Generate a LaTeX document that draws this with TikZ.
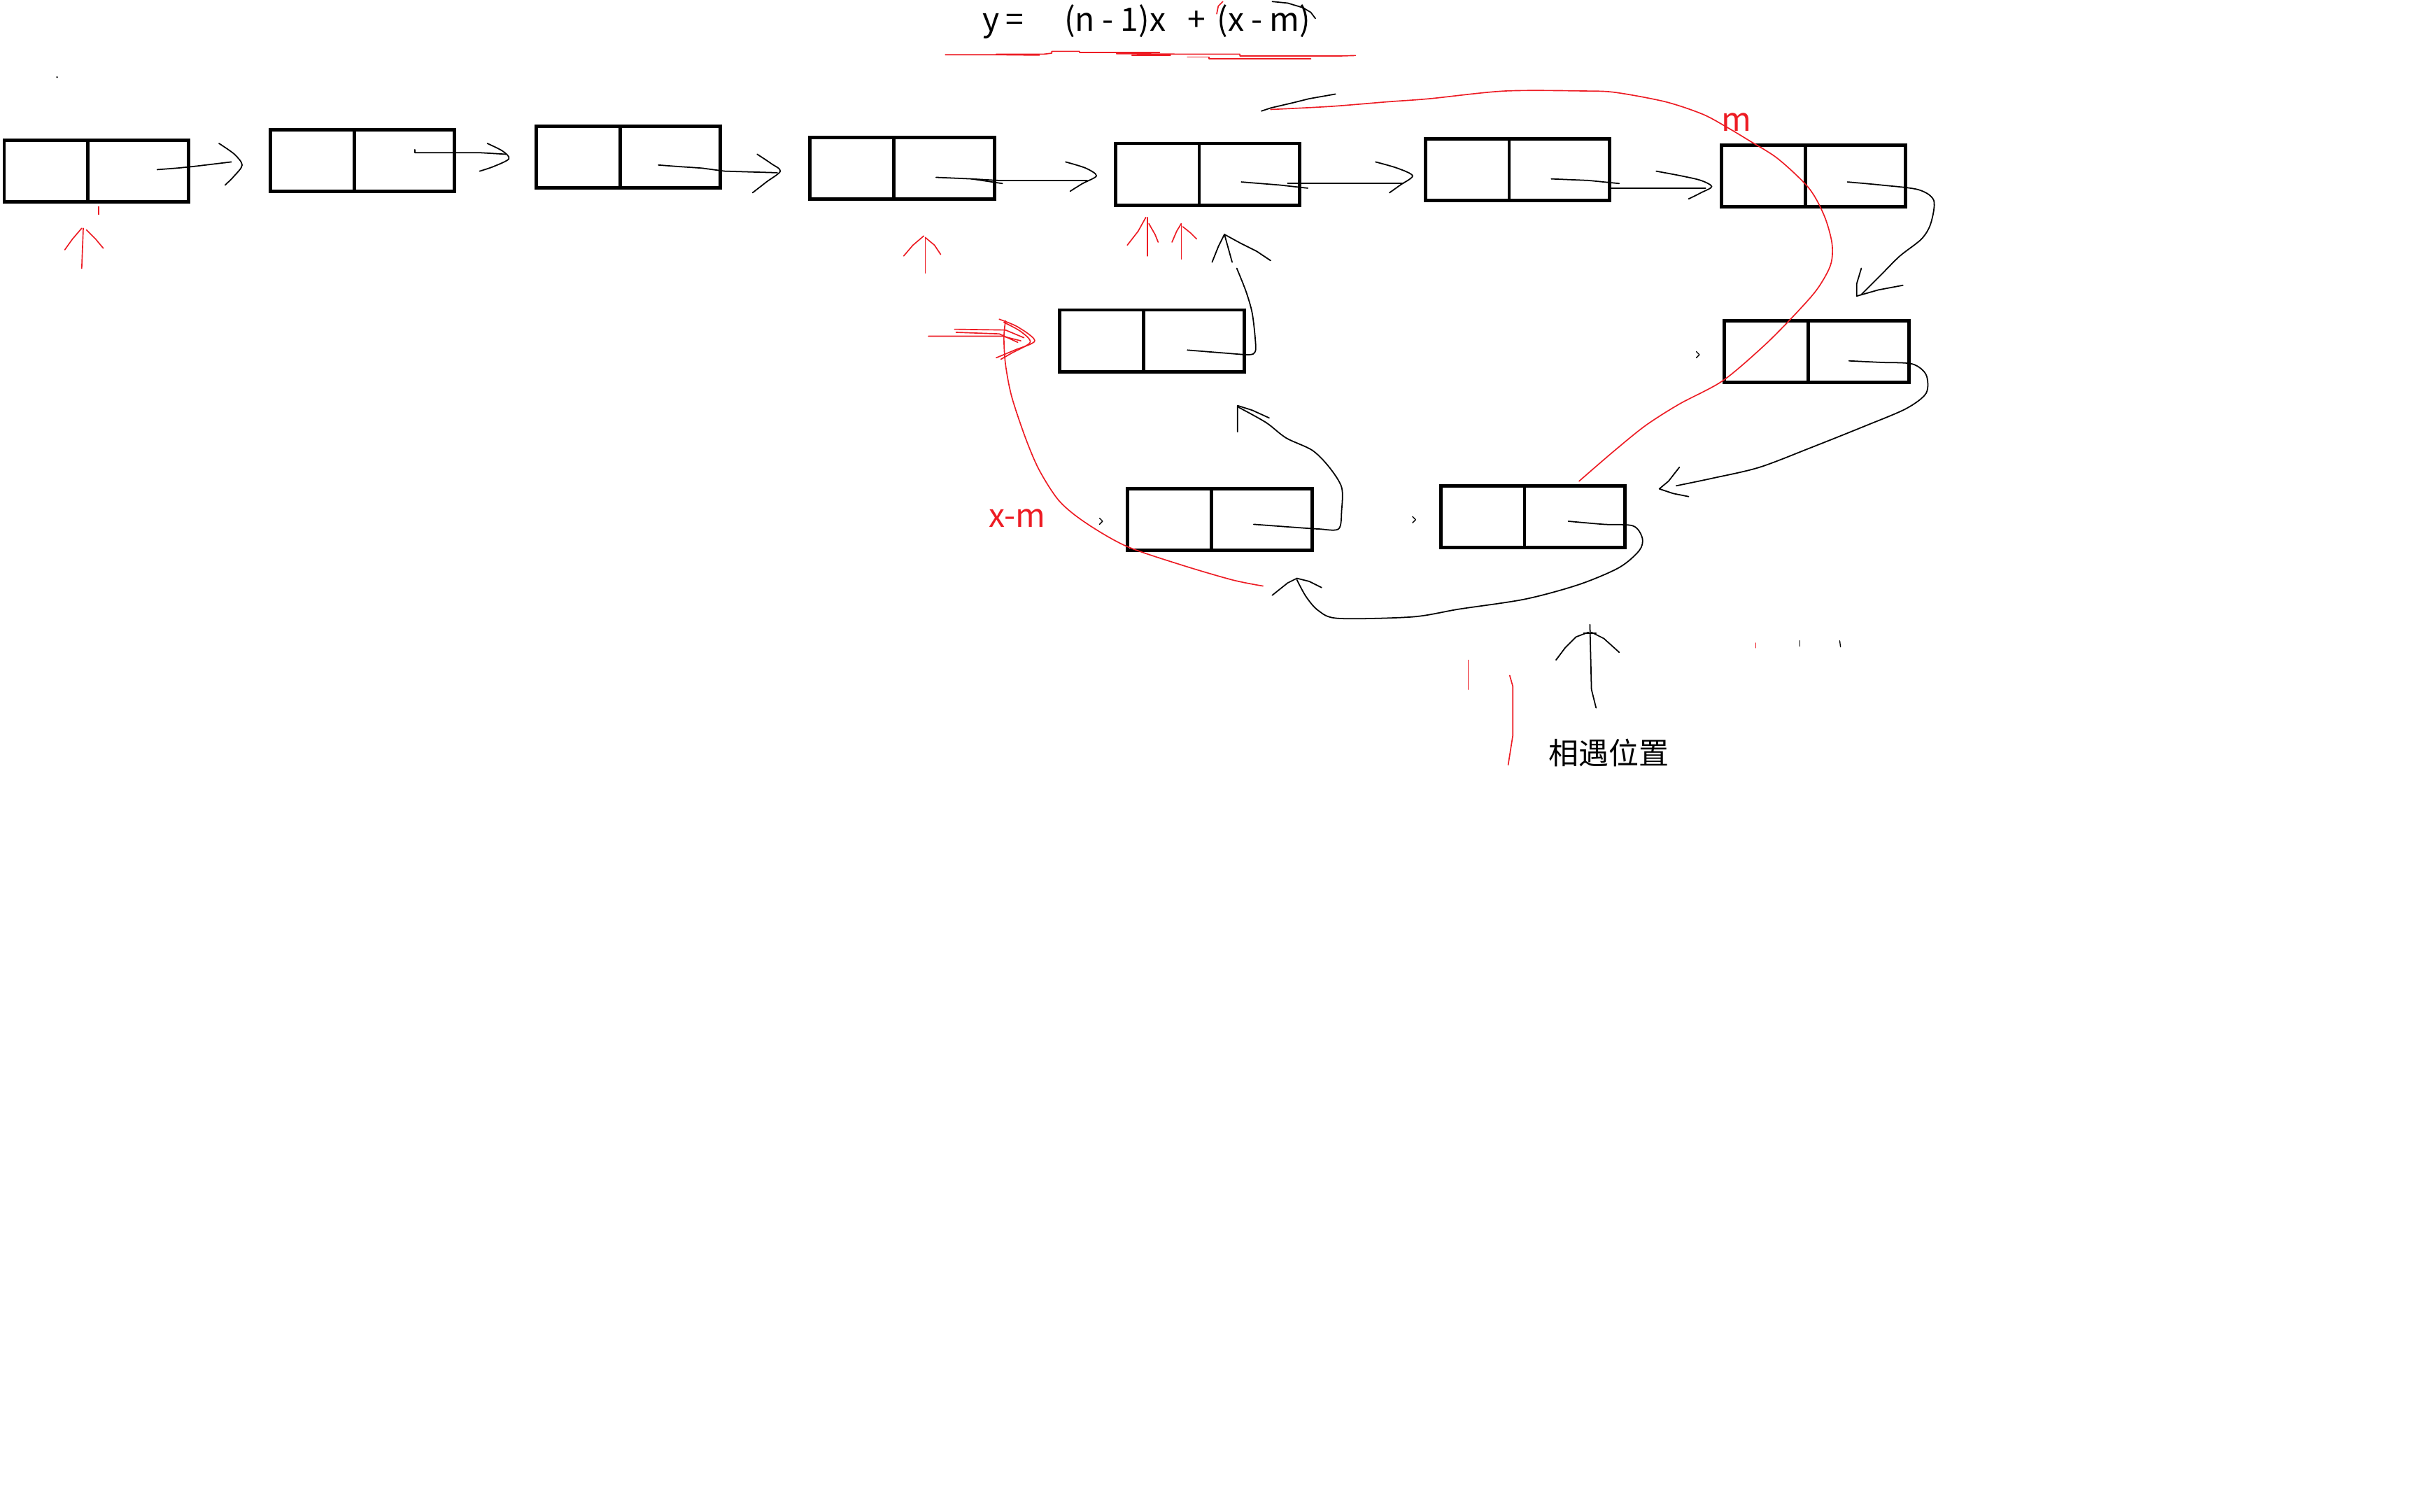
\documentclass[tikz,border=0pt]{standalone}
\usepackage{fontspec}
\setmainfont{Noto Sans CJK SC}
\usetikzlibrary{calc}
\definecolor{pred}{RGB}{237,28,36}
\tikzset{
  cell/.style={draw, line width=2.2pt, minimum width=119.5pt, minimum height=40pt, inner sep=0pt, outer sep=0pt},
  ink/.style={line width=0.8pt, black, line join=round, line cap=round},
  rink/.style={line width=0.75pt, pred, line join=round, line cap=round},
  lbl/.style={inner sep=0pt, font=\fontsize{21}{24}\selectfont},
  rlbl/.style={lbl, text=pred},
}
\begin{document}
\begin{tikzpicture}[x=1pt,y=-1pt]
\useasboundingbox (0,0) rectangle (1568,980);
\fill[white] (0,0) rectangle (1568,980);

% ---------------- boxes
\node[cell] (b1) at (62.5,111) {};
\node[cell] (b2) at (235,104) {};
\node[cell] (b3) at (407.5,102) {};
\node[cell] (b4) at (585,109) {};
\node[cell] (b5) at (783,113) {};
\node[cell] (b6) at (984,110) {};
\node[cell] (b7) at (1176,114) {};
\node[cell] (b8) at (1178,228) {};
\node[cell] (b9) at (994,335) {};
\node[cell] (b10) at (791,337) {};
\node[cell] (b11) at (747,221) {};
\foreach \b in {b1,b2,b3,b4,b5,b6,b7,b8,b9,b10,b11}
  \draw[line width=2.2pt] ($(\b.north west)!0.455!(\b.north east)$) -- ($(\b.south west)!0.455!(\b.south east)$);

% ---------------- texts
\node[lbl, anchor=base west] (eqy) at (637,20) {y\hspace{4pt}=};
\node[lbl, anchor=base west] (eqa) at (690,20) {(n - 1)x};
\node[lbl, anchor=base west] (eqp) at (770,20) {+};
\node[lbl, anchor=base west] (eqb) at (789,20) {(x - m)};
\node[rlbl, anchor=base west] (lm) at (1116,85) {m};
\node[rlbl, anchor=base west] (lxm) at (641,342) {x-m};
\node[inner sep=0pt, anchor=west, font=\fontsize{19.5}{22}\selectfont] (meet) at (1004,488) {相遇位置};

% ---------------- top row connectors
\coordinate (s1) at (102,110);
\draw[ink] (s1) -- (115,109) -- (125,108) -- (150,105);
\draw[ink] plot[smooth] coordinates {(142,93) (152,100) (157,107) (152,114) (146,120)};

\coordinate (s2) at (269,97);
\draw[ink] (s2) -- (269,99) -- (311,99) -- (328,100);
\draw[ink] plot[smooth] coordinates {(316,93) (326,98) (330,103) (320,108) (311,111)};

\coordinate (s3) at (427,107);
\draw[ink] (s3) -- (440,108) -- (455,109) -- (470,111) -- (504,112);
\draw[ink] plot[smooth] coordinates {(491,100) (500,106) (506,111) (497,118) (488,125)};

\coordinate (s4) at (607,115);
\draw[ink] (s4) -- (630,116) -- (647,117) -- (705,117);
\draw[ink] (630,116) -- (650,119);
\draw[ink] plot[smooth] coordinates {(691,105) (704,109) (711,114) (702,119) (694,124)};

\coordinate (s5) at (805,118);
\draw[ink] (s5) -- (830,120) -- (848,122);
\draw[ink] (835,119) -- (910,119);
\draw[ink] plot[smooth] coordinates {(892,105) (906,109) (916,114) (908,120) (901,125)};

\coordinate (s6) at (1006,116);
\draw[ink] (s6) -- (1030,117) -- (1050,119);
\draw[ink] (1044,122) -- (1106,122);
\draw[ink] plot[smooth] coordinates {(1074,111) (1090,114) (1103,117) (1110,121) (1103,125) (1095,129)};

% ---------------- loop connectors
\coordinate (s7) at (1198,118);
\draw[ink] plot[smooth] coordinates {(s7) (1220,120) (1244,123) (1254,130) (1252,145) (1246,155) (1232,166) (1220,178) (1207,191)};
\draw[ink] (1207,174) -- (1204,184) -- (1204,192) -- (1218,188) -- (1234,185);

\coordinate (s8) at (1199,234);
\draw[ink] plot[smooth] coordinates {(s8) (1220,235) (1240,236) (1249,243) (1249,255) (1236,265) (1210,276) (1175,290) (1141,303) (1111,310) (1087,315)};
\draw[ink] (1089,303) -- (1082,312) -- (1076,317) -- (1085,320) -- (1095,322);

\coordinate (s9) at (1017,338);
\draw[ink] plot[smooth] coordinates {(s9) (1040,340) (1059,341) (1065,349) (1063,357) (1050,368) (1024,379) (989,388.5) (946,395) (916,400) (868,401) (855,396) (847,387) (841,376)};
\draw[ink] (825,386) -- (835,378) -- (841,375) -- (849,377) -- (857,381);

\coordinate (s10) at (813,340);
\draw[ink] plot[smooth] coordinates {(s10) (840,342) (855,343) (868,343) (870,331) (870,316) (862,303) (851,292) (834,284) (821,274) (803,264)};
\draw[ink] (802.5,280) -- (802.5,263) -- (812,266) -- (823,271);

\coordinate (s11) at (770,227);
\draw[ink] plot[smooth] coordinates {(s11) (795,229) (810,230) (814,228) (814,220) (812,203) (808,189) (802,174)};
\draw[ink] (786,170) -- (790,160) -- (794,152) -- (805,158) -- (815,163) -- (824,169);
\draw[ink] (794,152) -- (799,170);

% ---------------- red curves
\draw[rink] plot[smooth] coordinates {(824,71) (863,69) (900,66) (927,64) (976,59) (1028,59) (1048,60) (1080,66) (1104,74) (1119,82) (1134,91) (1153,103) (1173,122) (1183,140) (1188,158) (1187,172) (1178,188) (1162,206) (1143,225) (1117,247) (1089,262) (1067,276) (1046,293) (1024,312)};
\draw[ink] (818,72) -- (824,70) -- (839,66.5) -- (849,64) -- (866,61);

\draw[rink] plot[smooth] coordinates {(819,380) (799,376) (765,366) (730,354) (704,339) (687,325) (674,305) (665,284) (656,257) (652,236) (651,219) (652,208)};
\draw[rink] (602,218) -- (650,218) -- (662,221);
\draw[rink] (619,213.5) -- (652,214) -- (664,219);
\draw[rink] (620,215.5) -- (648,216.5) -- (660,222);
\draw[rink] plot[smooth] coordinates {(648,207) (660,212) (671,221) (658,227) (646,232)};
\draw[rink] plot[smooth] coordinates {(651,209) (662,215) (668,222) (656,229) (649,233)};

% red arrows under boxes
\draw[rink] (64,134) -- (64,139);
\draw[rink] (53,174) -- (54,148);
\draw[rink] (42,162) -- (47,155) -- (53,148);
\draw[rink] (56,149) -- (62,155) -- (67,161);

\draw[rink] (600,177) -- (600,154);
\draw[rink] (586,166) -- (592,159) -- (599,153);
\draw[rink] (600,154) -- (606,159) -- (610,165);

\draw[rink] (744,166) -- (744,141);
\draw[rink] (731,159) -- (738,150) -- (743,141);
\draw[rink] (745,145) -- (749,152) -- (751,157);
\draw[rink] (766,168) -- (766,145);
\draw[rink] (760,157) -- (763,150) -- (766,145);
\draw[rink] (767,147) -- (772,151) -- (776,155);

% ---------------- bottom marks
\draw[rink] (979,438) -- (981,445) -- (981,477) -- (978,496);
\draw[rink, line width=0.5pt] (952,428) -- (952,447);
\draw[ink] (1031,405) -- (1032,447) -- (1035,459);
\draw[ink] (1027,410.5) -- (1035,410.5);
\draw[ink] (1009,428) -- (1015,420) -- (1022,413) -- (1030,410);
\draw[ink] (1032,410) -- (1040,414) -- (1050,423);
\draw[rink] (1138.5,417) -- (1138.5,420);
\draw[ink, line width=0.6pt] (1167,415.5) -- (1167,419);
\draw[ink, line width=0.6pt] (1193,415.5) -- (1193.5,419.5);

% tiny stray marks
\draw[ink, line width=0.6pt] (713,336) -- (715,338) -- (713,340);
\draw[ink, line width=0.6pt] (916,335) -- (918,337) -- (916,339);
\draw[ink, line width=0.6pt] (1100,228) -- (1102,230) -- (1100,232);
\fill (37,50) circle (0.6);

% ---------------- equation marks
\draw[ink] (825,1) -- (835,2) -- (845,5) -- (850,8) -- (853,12);
\draw[rink] (789,9) -- (790,4) -- (793,1);
\draw[rink] (613,35.5) -- (645,35.5) -- (674,35.8);
\draw[rink] (646,35.1) -- (677,35.1) -- (682,34.5) -- (682,33.3) -- (700,33.3) -- (700,34) -- (752,34);
\draw[rink] (724,34.8) -- (764,35.1) -- (804,35.1) -- (804,36.3) -- (869,36.3) -- (879,36);
\draw[rink] (734,35.8) -- (759,35.8);
\draw[rink] (770,37) -- (784,37) -- (784,38.1) -- (850,38.1);
\end{tikzpicture}
\end{document}
